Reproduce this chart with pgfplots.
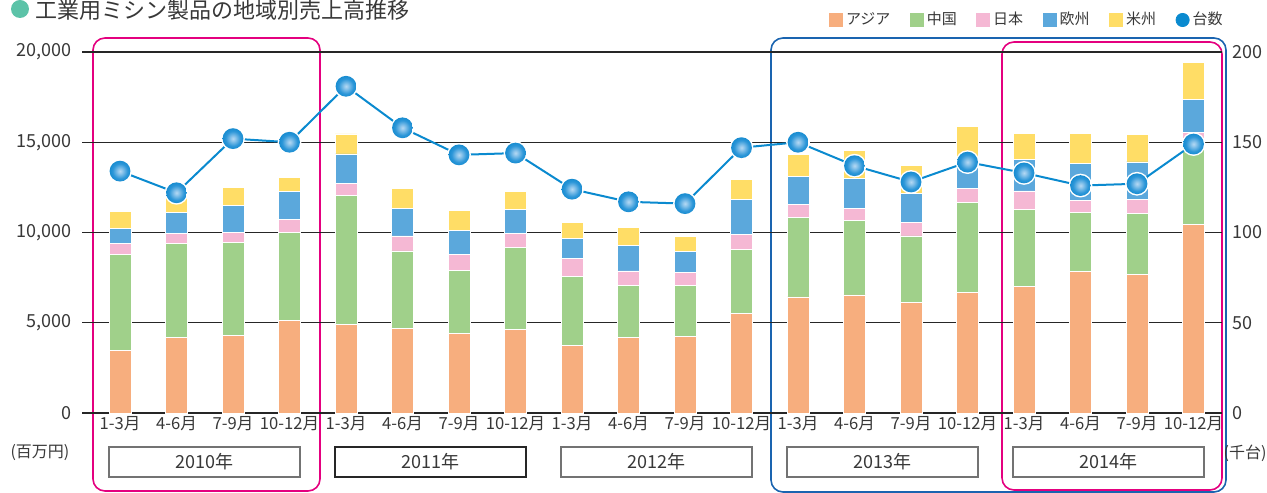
\documentclass[border=0pt]{standalone}
\usepackage{fontspec}
\setmainfont{Noto Sans CJK JP}
\usepackage{pgfplots}
\usepackage{pgfplotstable}
\pgfplotsset{compat=1.18}
\definecolor{asia}{HTML}{F7AE7E}
\definecolor{china}{HTML}{A0D08A}
\definecolor{japan}{HTML}{F5B8D4}
\definecolor{europe}{HTML}{5BA8DC}
\definecolor{usc}{HTML}{FFDD66}
\definecolor{lineblue}{HTML}{0A8ACF}
\definecolor{ballhi}{HTML}{B4D8F3}
\definecolor{ballmid}{HTML}{2C96D8}
\definecolor{balledge}{HTML}{0A86CC}
\definecolor{mag}{HTML}{E4007F}
\definecolor{frameblue}{HTML}{1A64B0}
\definecolor{titledot}{HTML}{5CC3A8}
\definecolor{txt}{HTML}{383838}

\pgfdeclareradialshading{mball}{\pgfpoint{0bp}{0bp}}{color(0bp)=(ballhi); color(5bp)=(ballhi!75!ballmid); color(18bp)=(ballmid); color(30bp)=(balledge); color(50bp)=(balledge)}
\newdimen\ballr
\pgfdeclareplotmark{myball}{%
  \ballr=\pgfplotmarksize\advance\ballr by 0.75pt
  \pgfpathcircle{\pgfpointorigin}{\ballr}%
  \pgfsetfillcolor{white}\pgfusepath{fill}%
  \pgfpathcircle{\pgfpointorigin}{\pgfplotmarksize}%
  \pgfshadepath{mball}{0}%
  \pgfusepath{discard}}

\pgfplotstableread{
x asia china japan europe us units
0 3480 5320 590 850 950 134
1 4170 5240 550 1150 890 122
2 4300 5160 560 1500 980 152
3 5110 4890 740 1520 780 150
4 4910 7160 650 1630 1110 181
5 4670 4310 830 1520 1110 158
6 4390 3520 890 1290 1110 143
7 4630 4540 790 1340 960 144
8 3760 3800 1000 1130 870 124
9 4170 2920 780 1410 1000 117
10 4260 2810 710 1150 870 116
11 5500 3540 830 1940 1150 147
12 6430 4400 730 1570 1170 150
13 6540 4110 680 1670 1540 137
14 6110 3700 750 1590 1570 128
15 6700 4970 770 1560 1870 139
16 7000 4280 1020 1740 1440 133
17 7830 3280 650 2070 1650 126
18 7690 3380 780 2060 1530 127
19 10430 4770 360 1830 2040 149
}\datatable

\begin{document}
\begin{tikzpicture}
\clip (0pt,0pt) rectangle (633.5pt,246pt);
\useasboundingbox (0pt,0pt) rectangle (633.5pt,246pt);
\begin{scope}[x=0.5pt,y=0.5pt]
  % frames
  \draw[mag, line width=0.8pt, rounded corners=6pt] (93,454) rectangle (320,1);
  \draw[frameblue, line width=0.8pt, rounded corners=6pt] (771,454) rectangle (1226,0);
  \draw[mag, line width=0.8pt, rounded corners=6pt] (1002,450) rectangle (1222,2);
  % title
  \fill[titledot] (20,483) circle (9);
  \node[anchor=base west, inner sep=0pt, text=txt, font=\fontsize{11}{12}\selectfont] at (35,473) {工業用ミシン製品の地域別売上高推移};
  % year boxes
  \foreach \xa/\xb/\yr/\col in {109/300/2010/black!55, 335/526/2011/black!85, 561/752/2012/black!55, 787/978/2013/black!55, 1013/1204/2014/black!55}{
    \draw[\col, line width=0.6pt, fill=white] (\xa,45) rectangle (\xb,15);
    \node[text=txt, font=\fontsize{9}{10}\selectfont, inner sep=0pt] at ({(\xa+\xb)/2},30) {\yr 年};
  }
  \node[text=txt, font=\fontsize{8}{9}\selectfont, inner sep=0pt] at (40,39) {(百万円)};
  \node[text=txt, font=\fontsize{8}{9}\selectfont, inner sep=0pt] at (1245,39) {(千台)};
\end{scope}

\begin{axis}[
  at={(41pt,39.5pt)}, anchor=south west, scale only axis,
  width=570pt, height=180.5pt,
  xmin=-0.6726, xmax=19.504, ymin=0, ymax=20000,
  ybar stacked, bar width=11pt,
  axis line style={draw=none},
  major tick length=0pt,
  ytick={0,5000,...,20000},
  scaled y ticks=false,
  ymajorgrids, grid style={black!85, line width=0.6pt},
  xtick={0,...,19},
  xticklabels={1-3月,4-6月,7-9月,10-12月,1-3月,4-6月,7-9月,10-12月,1-3月,4-6月,7-9月,10-12月,1-3月,4-6月,7-9月,10-12月,1-3月,4-6月,7-9月,10-12月},
  xticklabel style={font=\fontsize{8.3}{9}\selectfont, text=txt, inner sep=1pt, yshift=-0.5pt},
  yticklabel style={font=\fontsize{9}{10}\selectfont, text=txt, inner sep=0pt, xshift=-5pt},
  /pgf/number format/assume math mode=true,
  /pgf/number format/fixed,
  /pgf/number format/1000 sep={,},
]
\addplot[fill=asia, draw=white, line width=0.4pt] table[x=x,y=asia]{\datatable};
\addplot[fill=china, draw=white, line width=0.4pt] table[x=x,y=china]{\datatable};
\addplot[fill=japan, draw=white, line width=0.4pt] table[x=x,y=japan]{\datatable};
\addplot[fill=europe, draw=white, line width=0.4pt] table[x=x,y=europe]{\datatable};
\addplot[fill=usc, draw=white, line width=0.4pt] table[x=x,y=us]{\datatable};
\end{axis}

\begin{axis}[
  at={(41pt,39.5pt)}, anchor=south west, scale only axis,
  width=570pt, height=180.5pt,
  xmin=-0.6726, xmax=19.504, ymin=0, ymax=200,
  axis line style={draw=none},
  major tick length=0pt,
  xtick=\empty,
  ytick={0,50,...,200},
  yticklabel pos=right,
  yticklabel style={font=\fontsize{9}{10}\selectfont, text=txt, inner sep=0pt, xshift=5pt, anchor=west},
  /pgf/number format/assume math mode=true,
  clip=false,
  legend style={at={(1,1)}, anchor=east, yshift=16pt, xshift=2pt, draw=none, fill=none, inner sep=0pt,
    font=\fontsize{7.5}{8}\selectfont, text=txt, legend columns=-1,
    nodes={inner sep=1.5pt},
    /tikz/every even column/.append style={column sep=8.3pt}},
]
\addlegendimage{legend image code/.code={\fill[asia] (0pt,-3.25pt) rectangle (6.5pt,3.25pt);}}
\addlegendimage{legend image code/.code={\fill[china] (0pt,-3.25pt) rectangle (6.5pt,3.25pt);}}
\addlegendimage{legend image code/.code={\fill[japan] (0pt,-3.25pt) rectangle (6.5pt,3.25pt);}}
\addlegendimage{legend image code/.code={\fill[europe] (0pt,-3.25pt) rectangle (6.5pt,3.25pt);}}
\addlegendimage{legend image code/.code={\fill[usc] (0pt,-3.25pt) rectangle (6.5pt,3.25pt);}}
\addlegendimage{legend image code/.code={\fill[lineblue] (3.25pt,0pt) circle (3.3pt);}}
\legend{アジア,中国,日本,欧州,米州,台数}
\addplot[lineblue, line width=1pt, mark=myball, mark size=5.2pt, forget plot] table[x=x,y=units]{\datatable};
\end{axis}
\end{tikzpicture}
\end{document}
